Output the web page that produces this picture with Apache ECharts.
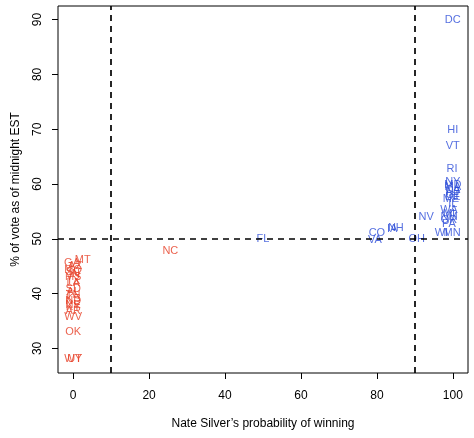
<!DOCTYPE html>
<html>
<head>
<meta charset="utf-8">
<script src="https://cdn.jsdelivr.net/npm/echarts@6/dist/echarts.min.js"></script>
<style>html,body{margin:0;padding:0;background:#fff;}#c{width:474px;height:438px;}</style>
</head>
<body>
<div id="c"></div>
<script>
// Romney-won states (red)
const redStates = ['MT','GA','AZ','MO','SC','IN','MS','TX','LA','SD','AL','TN','KS','ND','NE','KY','AR','WV','OK','WY','UT','NC'];
const redProb   = [2.5, -0.3, 0.5, 0, 0, 0.3, 0, 0, 0, 0, 0, 0, 0, 0, 0, 0, 0, 0, 0, 0, 0.4, 25.6];
const redVote   = [46.2, 45.6, 45.0, 44.4, 44.0, 43.6, 43.1, 42.4, 42.0, 40.9, 40.3, 39.7, 39.1, 38.6, 38.0, 37.5, 36.8, 35.7, 33.0, 28.0, 28.0, 47.8];
// Obama-won states (blue)
const blueStates = ['DC','HI','VT','RI','NY','MD','MA','CA','NJ','CT','DE','ME','IL','WA','MI','NM','OR','PA','NV','WI','MN','OH','IA','NH','CO','VA','FL'];
const blueProb   = [100, 100, 100, 99.8, 100, 100, 100, 100, 100, 100, 100, 99.5, 100, 99, 99, 99, 99, 99, 93, 97, 99.8, 90.5, 84, 85, 80, 79.5, 50];
const blueVote   = [90.0, 69.9, 67.0, 62.8, 60.3, 59.8, 59.4, 58.9, 58.5, 58.0, 57.6, 57.2, 56.3, 55.2, 54.6, 54.0, 53.4, 52.8, 54.0, 51.0, 51.0, 49.9, 51.8, 52.0, 51.1, 49.8, 49.9];
// tick labels and reference lines
const xTicks = [0, 20, 40, 60, 80, 100];
const yTicks = [30, 40, 50, 60, 70, 80, 90];
const vLines = [10, 90];
const hLines = [50];

const FONT = '"Liberation Sans", Arial, sans-serif';
function pts(names, xs, ys){ return names.map((n,i)=>({name:n, value:[xs[i], ys[i]]})); }
function labelSeries(names, xs, ys, color){
  return {
    type:'scatter', symbolSize:0, silent:true,
    data: pts(names, xs, ys),
    label:{show:true, position:'inside', formatter:p=>p.name, color:color, fontSize:11, fontFamily:FONT},
    emphasis:{disabled:true}
  };
}
const chart = echarts.init(document.getElementById('c'), null, {renderer:'canvas'});
const ml = {
  silent:true, symbol:'none', label:{show:false},
  lineStyle:{color:'#000', type:[6,5], width:1.7},
  data: vLines.map(v=>({xAxis:v})).concat(hLines.map(v=>({yAxis:v})))
};
const s1 = labelSeries(redStates, redProb, redVote, '#e63b22');
const s2 = labelSeries(blueStates, blueProb, blueVote, '#2a4bd8');
s2.markLine = ml;
chart.setOption({
  animation:false,
  grid:{left:58, right:6, top:6, bottom:65, show:true, borderColor:'#000', borderWidth:1, backgroundColor:'transparent', containLabel:false, outerBoundsMode:'none'},
  xAxis:{
    type:'value', min:-4, max:104,
    name:'Nate Silver\u2019s probability of winning', nameLocation:'middle', nameGap:45,
    nameTextStyle:{fontSize:12, color:'#000', fontFamily:FONT},
    axisLine:{show:false, onZero:false}, splitLine:{show:false},
    axisTick:{show:true, length:6, lineStyle:{color:'#000'}, customValues:xTicks},
    axisLabel:{customValues:xTicks, fontSize:12, color:'#000', margin:17, fontFamily:FONT}
  },
  yAxis:{
    type:'value', min:25.52, max:92.48,
    name:'% of vote as of midnight EST', nameLocation:'middle', nameGap:36, nameRotate:90,
    nameTextStyle:{fontSize:12, color:'#000', fontFamily:FONT},
    axisLine:{show:false, onZero:false}, splitLine:{show:false},
    axisTick:{show:true, length:6, lineStyle:{color:'#000'}, customValues:yTicks},
    axisLabel:{customValues:yTicks, fontSize:12, color:'#000', margin:14, rotate:90, fontFamily:FONT}
  },
  series:[s1, s2]
});
</script>
</body>
</html>
